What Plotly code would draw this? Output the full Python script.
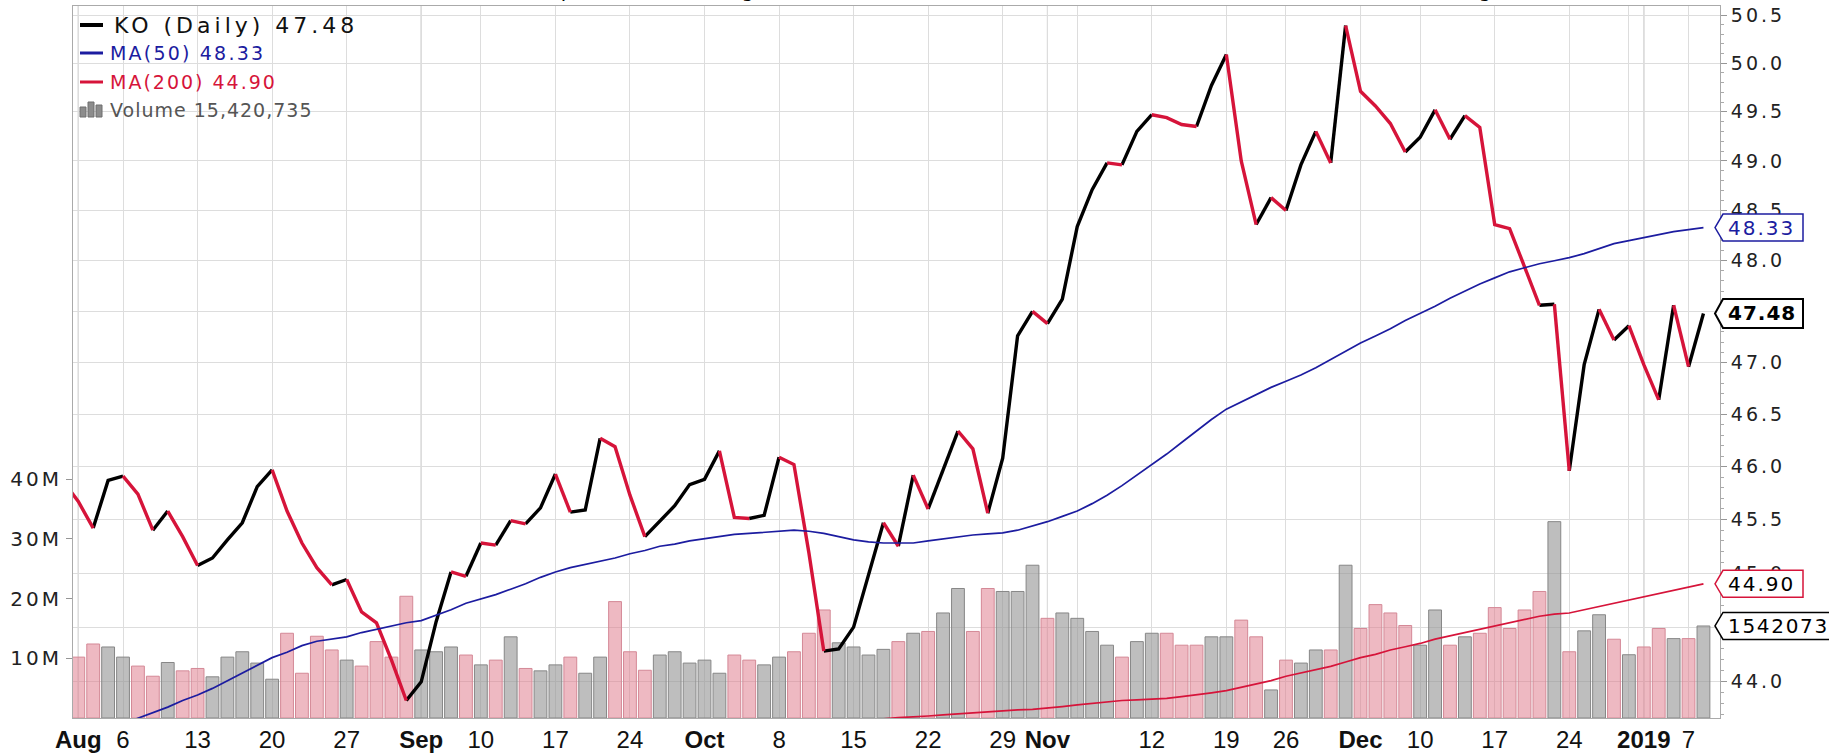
import math
import plotly.graph_objects as go

# ---------------- data ----------------
dates = [
    "2018-07-31",
    "2018-08-01", "2018-08-02", "2018-08-03", "2018-08-06", "2018-08-07", "2018-08-08", "2018-08-09", "2018-08-10",
    "2018-08-13", "2018-08-14", "2018-08-15", "2018-08-16", "2018-08-17", "2018-08-20", "2018-08-21", "2018-08-22",
    "2018-08-23", "2018-08-24", "2018-08-27", "2018-08-28", "2018-08-29", "2018-08-30", "2018-08-31",
    "2018-09-04", "2018-09-05", "2018-09-06", "2018-09-07", "2018-09-10", "2018-09-11", "2018-09-12", "2018-09-13",
    "2018-09-14", "2018-09-17", "2018-09-18", "2018-09-19", "2018-09-20", "2018-09-21", "2018-09-24", "2018-09-25",
    "2018-09-26", "2018-09-27", "2018-09-28",
    "2018-10-01", "2018-10-02", "2018-10-03", "2018-10-04", "2018-10-05", "2018-10-08", "2018-10-09", "2018-10-10",
    "2018-10-11", "2018-10-12", "2018-10-15", "2018-10-16", "2018-10-17", "2018-10-18", "2018-10-19", "2018-10-22",
    "2018-10-23", "2018-10-24", "2018-10-25", "2018-10-26", "2018-10-29", "2018-10-30", "2018-10-31",
    "2018-11-01", "2018-11-02", "2018-11-05", "2018-11-06", "2018-11-07", "2018-11-08", "2018-11-09", "2018-11-12",
    "2018-11-13", "2018-11-14", "2018-11-15", "2018-11-16", "2018-11-19", "2018-11-20", "2018-11-21", "2018-11-23",
    "2018-11-26", "2018-11-27", "2018-11-28", "2018-11-29", "2018-11-30",
    "2018-12-03", "2018-12-04", "2018-12-06", "2018-12-07", "2018-12-10", "2018-12-11", "2018-12-12", "2018-12-13",
    "2018-12-14", "2018-12-17", "2018-12-18", "2018-12-19", "2018-12-20", "2018-12-21", "2018-12-24", "2018-12-26",
    "2018-12-27", "2018-12-28", "2018-12-31",
    "2019-01-02", "2019-01-03", "2019-01-04", "2019-01-07", "2019-01-08",
]

close = [
    45.86,
    45.67, 45.42, 45.87, 45.91, 45.74, 45.40, 45.58, 45.34, 45.07, 45.14, 45.31, 45.47, 45.81, 45.97, 45.58, 45.28,
    45.05, 44.89, 44.94, 44.64, 44.54, 44.20, 43.83,
    44.00, 44.55, 45.01, 44.97, 45.28, 45.26, 45.49, 45.46, 45.61, 45.93, 45.57, 45.59, 46.27, 46.19, 45.73, 45.34,
    45.48, 45.63, 45.83,
    45.88, 46.15, 45.52, 45.51, 45.54, 46.09, 46.02, 45.19, 44.28, 44.30, 44.50, 44.98, 45.47, 45.25, 45.92, 45.60,
    45.98, 46.34, 46.17, 45.56, 46.08, 47.26, 47.50,
    47.38, 47.62, 48.34, 48.71, 48.98, 48.96, 49.30, 49.47, 49.44, 49.37, 49.35, 49.77, 50.09, 49.00, 48.36, 48.63,
    48.50, 48.96, 49.30, 48.98, 50.39,
    49.71, 49.56, 49.38, 49.09, 49.24, 49.52, 49.22, 49.46, 49.34, 48.36, 48.32, 47.94, 47.56, 47.57, 45.96, 46.98,
    47.52, 47.22, 47.36,
    46.98, 46.64, 47.56, 46.96, 47.48,
]

volume_m = [
    None,
    10.2, 12.4, 11.9, 10.2, 8.7, 7.0, 9.3, 7.9, 8.3, 6.9, 10.2, 11.1, 9.2, 6.5, 14.2, 7.5, 13.7, 11.4, 9.7, 8.7,
    12.8, 10.2, 20.4,
    11.4, 11.1, 11.9, 10.55, 8.9, 9.7, 13.6, 8.3, 7.9, 8.9, 10.2, 7.5, 10.2, 19.5, 11.1, 8.0, 10.55, 11.1, 9.2,
    9.7, 7.5, 10.55, 9.7, 8.9, 10.2, 11.1, 14.2, 18.1, 12.6, 11.9, 10.55, 11.5, 12.8, 14.2, 14.5, 17.6, 21.7, 14.5,
    21.7, 21.2, 21.2, 25.6,
    16.7, 17.6, 16.7, 14.5, 12.2, 10.2, 12.8, 14.2, 14.2, 12.2, 12.2, 13.6, 13.6, 16.4, 13.6, 4.7, 9.7, 9.2, 11.4,
    11.4, 25.6,
    15.0, 19.0, 17.6, 15.5, 12.2, 18.1, 12.2, 13.6, 14.2, 18.5, 15.0, 18.1, 21.2, 32.9, 11.1, 14.6, 17.3, 13.2, 10.6,
    11.9, 15.0, 13.3, 13.3, 15.42,
]

ma50 = [
    43.44,
    43.48, 43.52, 43.57, 43.62, 43.67, 43.72, 43.77, 43.83, 43.88, 43.94,
    44.01, 44.08, 44.15, 44.22, 44.27, 44.33, 44.37, 44.39, 44.41, 44.45,
    44.48, 44.51, 44.54, 44.56, 44.61, 44.66, 44.72, 44.76, 44.80, 44.85,
    44.90, 44.96, 45.01, 45.05, 45.08, 45.11, 45.14, 45.18, 45.21, 45.25,
    45.27, 45.30, 45.32, 45.34, 45.36, 45.37, 45.38, 45.39, 45.40, 45.39,
    45.37, 45.34, 45.31, 45.29, 45.28, 45.28, 45.28, 45.30, 45.32, 45.34,
    45.355, 45.365, 45.375, 45.40, 45.44, 45.48, 45.53, 45.58, 45.65, 45.73,
    45.82, 45.92, 46.02, 46.12, 46.23, 46.34, 46.45, 46.55, 46.62, 46.69,
    46.76, 46.82, 46.88, 46.95, 47.03, 47.11, 47.19, 47.26, 47.33, 47.41,
    47.48, 47.55, 47.63, 47.70, 47.77, 47.83, 47.89, 47.93, 47.97, 48.00,
    48.03, 48.07, 48.12, 48.17, 48.20, 48.23, 48.26, 48.29, 48.31, 48.33,
]

ma200_start = "2018-10-11"
ma200 = [
    43.60, 43.62, 43.63, 43.65, 43.665, 43.675, 43.68, 43.69, 43.70, 43.71,
    43.72, 43.73, 43.74, 43.745, 43.75, 43.76, 43.775, 43.79, 43.805, 43.82,
    43.83, 43.835, 43.84, 43.85, 43.865, 43.88, 43.90, 43.92, 43.95, 43.98,
    44.01, 44.05, 44.08, 44.11, 44.14, 44.18, 44.22, 44.25, 44.29, 44.32,
    44.35, 44.39, 44.42, 44.45, 44.48, 44.51, 44.54, 44.57, 44.60, 44.62,
    44.63, 44.66, 44.69, 44.72, 44.75, 44.78, 44.81, 44.84, 44.87, 44.90,
]

last_volume = 15420735

tick_dates = ["2018-08-01", "2018-08-06", "2018-08-13", "2018-08-20", "2018-08-27", "2018-09-04", "2018-09-10",
              "2018-09-17", "2018-09-24", "2018-10-01", "2018-10-08", "2018-10-15", "2018-10-22", "2018-10-29",
              "2018-11-01", "2018-11-05", "2018-11-12", "2018-11-19", "2018-11-26", "2018-12-03", "2018-12-10",
              "2018-12-17", "2018-12-24", "2018-12-31", "2019-01-02", "2019-01-07"]
tick_text = ["<b>Aug</b>", "6", "13", "20", "27", "<b>Sep</b>", "10", "17", "24", "<b>Oct</b>", "8", "15", "22", "29",
             "<b>Nov</b>", "", "12", "19", "26", "<b>Dec</b>", "10", "17", "24", "", "<b>2019</b>", "7"]
month_dates = ["2018-08-01", "2018-09-04", "2018-10-01", "2018-11-01", "2018-12-03", "2019-01-02"]

# 44.5 and 47.5 sit fully behind the value flags, so they carry no label
price_ticks = [44.0, 44.5, 45.0, 45.5, 46.0, 46.5, 47.0, 47.5, 48.0, 48.5, 49.0, 49.5, 50.0, 50.5]
price_tick_text = ["44.0", "", "45.0", "45.5", "46.0", "46.5", "47.0", "", "48.0", "48.5", "49.0", "49.5",
                   "50.0", "50.5"]
volume_ticks = [10, 20, 30, 40]
volume_tick_text = ["10M", "20M", "30M", "40M"]

title_parts = [("Open 46.89", 540), ("High 47.53", 713), ("Low 46.82", 890), ("Close 47.48", 1060),
               ("Volume 15.4M", 1245), ("Chg +0.52 (+1.11%)", 1444)]

# ---------------- styles ----------------
BLACK = "#000000"
RED = "rgb(214,20,58)"
BLUE = "rgb(28,28,160)"
GRID = "rgb(221,221,221)"
MONTH_GRID = "rgb(160,160,160)"
FRAME = "rgb(170,170,170)"
UP_FILL, UP_LINE = "rgba(150,150,150,0.62)", "rgb(135,135,135)"
DN_FILL, DN_LINE = "rgba(222,120,138,0.52)", "rgb(212,136,150)"

PRICE_MIN, PRICE_MAX = 43.672, 50.594
VOL_MAX = 119.3
X_MIN, X_MAX = 0.645, 111.11
FONT = "DejaVu Sans"


def ls(text, px):
    return f'<span style="letter-spacing:{px}px">{text}</span>'


n = len(dates)
xi = list(range(n))
pos = {d: i for i, d in enumerate(dates)}
up = [None] + [close[k] >= close[k - 1] for k in range(1, n)]

fig = go.Figure()

# volume bars (base axis, drawn underneath)
fig.add_trace(go.Bar(
    x=xi, y=volume_m, width=0.86, yaxis="y", hoverinfo="skip",
    marker=dict(color=[UP_FILL if u else DN_FILL for u in up],
                line=dict(color=[UP_LINE if u else DN_LINE for u in up], width=1)),
))

# price line, coloured by direction of each day
for color, flag in ((BLACK, True), (RED, False)):
    xs, ys = [], []
    k = 1
    while k < n:
        if up[k] == flag:
            s = k
            while k < n and up[k] == flag:
                k += 1
            xs += xi[s - 1:k] + [None]
            ys += close[s - 1:k] + [None]
        else:
            k += 1
    fig.add_trace(go.Scatter(x=xs, y=ys, mode="lines", yaxis="y2", hoverinfo="skip", connectgaps=False,
                             line=dict(color=color, width=3.4)))

# moving averages
fig.add_trace(go.Scatter(x=xi, y=ma50, mode="lines", yaxis="y2", hoverinfo="skip",
                         line=dict(color=BLUE, width=1.7)))
s200 = pos[ma200_start]
fig.add_trace(go.Scatter(x=list(range(s200, s200 + len(ma200))), y=ma200, mode="lines", yaxis="y2",
                         hoverinfo="skip", line=dict(color=RED, width=1.7)))

shapes = []
# darker month separators
for d in month_dates:
    shapes.append(dict(type="line", xref="x", yref="y", x0=pos[d], x1=pos[d], y0=0, y1=VOL_MAX,
                       line=dict(color=MONTH_GRID, width=1), layer="below"))


# value flags on the right edge
def flag_shape(yref, value, color, width, right, half):
    return dict(type="path", xref="paper", xsizemode="pixel", xanchor=1,
                yref=yref, ysizemode="pixel", yanchor=value,
                path=f"M -5,0 L 3,{half} L {right},{half} L {right},{-half} L 3,{-half} Z",
                line=dict(color=color, width=width), fillcolor="white", layer="above")


shapes.append(flag_shape("y2", ma50[-1], BLUE, 1.5, 83, 13.5))
shapes.append(flag_shape("y2", close[-1], BLACK, 2, 83, 14.5))
shapes.append(flag_shape("y2", ma200[-1], RED, 1.5, 83, 13.5))
shapes.append(flag_shape("y", volume_m[-1], BLACK, 1.5, 140, 13.5))

# legend icons (pixel offsets from the plot's top-left corner)
for dy, color, w in ((-19, BLACK, 4), (-47, BLUE, 3), (-76, RED, 3)):
    shapes.append(dict(type="line", xref="paper", yref="paper", xsizemode="pixel", xanchor=0,
                       ysizemode="pixel", yanchor=1, x0=7, x1=30, y0=dy, y1=dy,
                       line=dict(color=color, width=w)))
for x0, x1, top in ((7, 13, -101), (15, 21, -96), (23, 29, -99)):
    shapes.append(dict(type="rect", xref="paper", yref="paper", xsizemode="pixel", xanchor=0,
                       ysizemode="pixel", yanchor=1, x0=x0, x1=x1, y0=-111, y1=top,
                       line=dict(color="rgb(110,110,110)", width=1), fillcolor="rgb(140,140,140)"))

annotations = []
legend_rows = [
    (ls(f"KO (Daily) {close[-1]:.2f}", 4), -19, 22, "#111111", 39),
    (ls(f"MA(50) {ma50[-1]:.2f}", 2.2), -47, 19, BLUE, 35),
    (ls(f"MA(200) {ma200[-1]:.2f}", 2), -76, 19, RED, 35),
    (ls(f"Volume {last_volume:,}", 1), -104, 19, "rgb(85,85,85)", 35),
]
for text, dy, size, color, dx in legend_rows:
    annotations.append(dict(text=text, xref="paper", yref="paper", x=0, y=1, xanchor="left", yanchor="middle",
                            xshift=dx, yshift=dy, showarrow=False, font=dict(family=FONT, size=size, color=color)))

# flag texts
annotations.append(dict(text=ls(f"{ma50[-1]:.2f}", 2), xref="paper", x=1, xanchor="left", xshift=6,
                        yref="y2", y=math.log10(ma50[-1]), yanchor="middle", showarrow=False,
                        font=dict(family=FONT, size=20, color=BLUE)))
annotations.append(dict(text="<b>" + ls(f"{close[-1]:.2f}", 1) + "</b>", xref="paper", x=1, xanchor="left",
                        xshift=6, yref="y2", y=math.log10(close[-1]), yanchor="middle", showarrow=False,
                        font=dict(family=FONT, size=20, color=BLACK)))
annotations.append(dict(text=ls(f"{ma200[-1]:.2f}", 2), xref="paper", x=1, xanchor="left", xshift=6,
                        yref="y2", y=math.log10(ma200[-1]), yanchor="middle", showarrow=False,
                        font=dict(family=FONT, size=20, color=BLACK)))
annotations.append(dict(text=ls(f"{last_volume}", 1.7), xref="paper", x=1, xanchor="left", xshift=6,
                        yref="y", y=volume_m[-1], yanchor="middle", showarrow=False,
                        font=dict(family=FONT, size=20, color=BLACK)))

# title line, mostly cut off above the picture
for text, px in title_parts:
    annotations.append(dict(text=ls(text, 3), xref="paper", yref="paper", x=0, y=1, xanchor="left",
                            yanchor="bottom", xshift=px - 73, yshift=1.5, showarrow=False,
                            font=dict(family=FONT, size=20, color=BLACK)))

fig.update_layout(
    width=1829, height=755,
    margin=dict(l=73, r=109, t=6, b=37, autoexpand=False),
    paper_bgcolor="white", plot_bgcolor="white",
    showlegend=False, bargap=0, hovermode=False,
    xaxis=dict(range=[X_MIN, X_MAX], tickmode="array", tickvals=[pos[d] for d in tick_dates], ticktext=tick_text,
               showgrid=True, gridcolor=GRID, gridwidth=1, ticks="", zeroline=False, automargin=False,
               tickfont=dict(family="Liberation Sans", size=24, color="#111111"), ticklabelstandoff=0,
               showline=True, linecolor=FRAME, linewidth=1, mirror=True),
    yaxis=dict(range=[0, VOL_MAX], tickmode="array", tickvals=volume_ticks, automargin=False,
               ticktext=[ls(t, 3) for t in volume_tick_text], side="left", showgrid=False, zeroline=False,
               ticks="outside", ticklen=6, tickcolor="rgb(150,150,150)",
               tickfont=dict(family=FONT, size=20, color="#222222"),
               showline=True, linecolor=FRAME, linewidth=1, mirror=True),
    yaxis2=dict(type="log", range=[math.log10(PRICE_MIN), math.log10(PRICE_MAX)], overlaying="y", side="right",
                tickmode="array", tickvals=price_ticks, ticktext=[ls(t, 3) for t in price_tick_text],
                showgrid=True, gridcolor=GRID, gridwidth=1, zeroline=False, showline=False, automargin=False,
                ticks="outside", ticklen=6, tickcolor="rgb(150,150,150)",
                minor=dict(ticks="outside", ticklen=3, tickcolor="rgb(170,170,170)", tickmode="linear",
                           tick0=44, dtick="L0.1", showgrid=False),
                tickfont=dict(family=FONT, size=19, color="#222222")),
    shapes=shapes,
    annotations=annotations,
)

# the page's default 8px body margin would shift the figure inside the 1829x755 window
fig.write_html("out.html", config={"displayModeBar": False, "staticPlot": True},
               post_script="document.body.style.margin='0';document.body.style.overflow='hidden';")
